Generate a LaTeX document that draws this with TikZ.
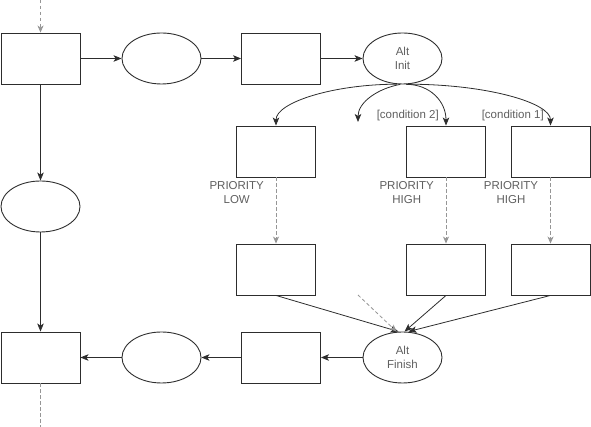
\documentclass[tikz,border=0pt]{standalone}
\usepackage{fontspec}
\setmainfont{Liberation Sans}
\usepackage{tikz}
\usetikzlibrary{arrows.meta}
\usetikzlibrary{shapes.geometric}

\definecolor{linegray}{RGB}{45,45,45}
\definecolor{textgray}{RGB}{95,95,95}
\definecolor{dashgray}{RGB}{150,150,150}

\begin{document}
\begin{tikzpicture}[x=1pt,y=1pt,
    act/.style={draw=linegray, line width=0.9pt, rectangle, minimum width=79pt, minimum height=51pt, inner sep=0pt},
    obj/.style={draw=linegray, line width=0.9pt, ellipse, minimum width=79pt, minimum height=51pt, inner sep=0pt,
        text=textgray, align=center, font=\fontsize{11.5}{13.5}\selectfont},
    lbl/.style={text=textgray, align=center, inner sep=0pt, font=\fontsize{11.5}{13.5}\selectfont},
    flow/.style={draw=linegray, line width=0.8pt, -{Stealth[length=8pt,width=6.5pt,inset=2pt]}},
    ctrl/.style={draw=dashgray, line width=0.8pt, dash pattern=on 3.5pt off 2.5pt, -{Stealth[length=7pt,width=6pt,inset=2pt]}}]
          \useasboundingbox (0,0) rectangle (591,427);
          % top row
          \node[act] (start) at (40.5,368.5) {};
          \node[obj] (objA) at (161.5,368.5) {};
          \node[act] (prep) at (281,368.5) {};
          \node[obj] (init) at (402.5,368.5) {Alt\\Init};
          % branches
          \node[act] (lowA) at (276,275.5) {};
          \node[act] (highA) at (446,275.5) {};
          \node[act] (highB) at (550.5,275.5) {};
          \node[act] (lowC) at (276,157.5) {};
          \node[act] (highC) at (446,157.5) {};
          \node[act] (highD) at (550.5,157.5) {};
          % guards and priorities
          \node[lbl, anchor=east] (condtwo) at (439,311) {[condition 2]};
          \node[lbl, anchor=east] (condone) at (544,311) {[condition 1]};
          \node[lbl] (prlow) at (236.7,234.5) {PRIORITY\\LOW};
          \node[lbl] (prhightwo) at (406.7,234.5) {PRIORITY\\HIGH};
          \node[lbl] (prhighone) at (511,234.5) {PRIORITY\\HIGH};
          % left column and bottom row
          \node[obj] (objL) at (40.5,220.5) {};
          \node[obj] (finish) at (402.5,69.5) {Alt\\Finish};
          \node[act] (post) at (281,69.5) {};
          \node[obj] (objB) at (161.5,69.5) {};
          \node[act] (stop) at (40.5,69.5) {};
          % free ends
          \coordinate (entry) at (40.5,427);
          \coordinate (exit) at (40.5,0);
          \coordinate (elsebr) at (358,305);
          \coordinate (elsein) at (358,132);
          % flows
          \draw[ctrl] (entry) -- (start.north);
          \draw[flow] (start) -- (objA);
          \draw[flow] (objA) -- (prep);
          \draw[flow] (prep) -- (init);
          \draw[flow] (start.south) -- (objL.north);
          \draw[flow] (objL.south) -- (stop.north);
          \draw[flow] (finish) -- (post);
          \draw[flow] (post) -- (objB);
          \draw[flow] (objB) -- (stop);
          \draw[ctrl, -] (stop.south) -- (exit);
          % alternatives out of init
          \draw[flow] (init.258) .. controls +(-64,0) and +(0,23) .. (lowA.north);
          \draw[flow] (init.265) .. controls +(-22,-4) and +(0,20) .. (elsebr);
          \draw[flow] (init.278) .. controls +(24,0) and +(0,24) .. (highA.north);
          \draw[flow] (init.282) .. controls +(78,0) and +(0,23) .. (highB.north);
          % priorities
          \draw[ctrl] (lowA.south) -- (lowC.north);
          \draw[ctrl] (highA.south) -- (highC.north);
          \draw[ctrl] (highB.south) -- (highD.north);
          % joins into finish
          \draw[flow] (lowC.south) -- ([xshift=-4pt]finish.north);
          \draw[ctrl] (elsein) -- ([xshift=-6pt]finish.north);
          \draw[flow] (highC.south) -- ([xshift=2pt]finish.north);
          \draw[flow] (highD.south) -- ([xshift=6pt]finish.north);
        \end{tikzpicture}
\end{document}
